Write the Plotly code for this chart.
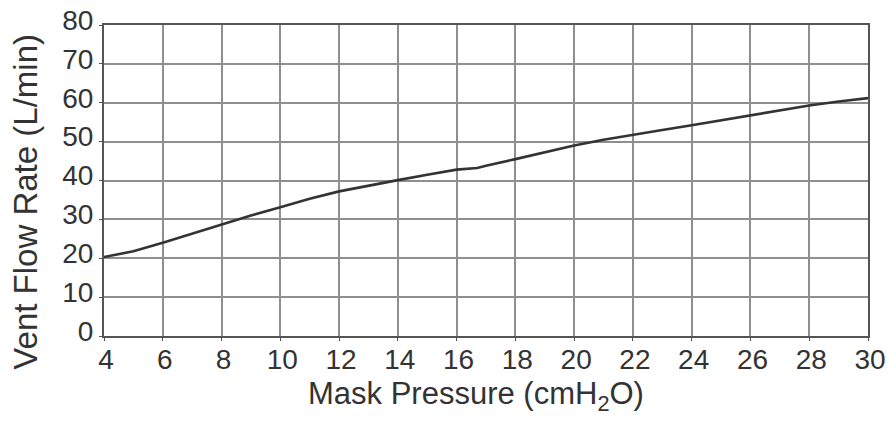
import plotly.graph_objects as go

pressure = [4, 5, 6, 7, 8, 9, 10, 11, 12, 13, 14, 15, 16, 16.7, 17, 18, 19, 20,
            21, 22, 23, 24, 25, 26, 27, 28, 29, 30]
flow = [20.3, 21.8, 24.0, 26.4, 28.8, 31.0, 33.1, 35.3, 37.2, 38.7, 40.1, 41.5,
        42.8, 43.2, 43.8, 45.5, 47.3, 49.0, 50.5, 51.8, 53.0, 54.2, 55.5, 56.8,
        58.1, 59.3, 60.3, 61.2]

x_ticks = list(range(4, 31, 2))
y_ticks = list(range(0, 81, 10))

FONT = "Liberation Sans, Arial, Helvetica, sans-serif"
fig = go.Figure()
fig.add_trace(go.Scatter(x=pressure, y=flow, mode="lines",
                         line=dict(color="#333333", width=2.6), showlegend=False))

fig.update_layout(
    width=890, height=423,
    margin=dict(l=104, r=22, t=25, b=87),
    paper_bgcolor="white", plot_bgcolor="white",
    font=dict(family=FONT, color="#333333"),
    xaxis=dict(range=[4, 30], tickvals=x_ticks, ticktext=[str(v) for v in x_ticks],
               automargin=False,
               showgrid=True, gridcolor="#8f8f8f", gridwidth=1.6,
               showline=True, linecolor="#555555", linewidth=2, mirror=True,
               ticks="outside", ticklen=3, tickcolor="#555555",
               ticklabelstandoff=-6, ticklabelshift=2, ticklabeloverflow="allow",
               tickfont=dict(size=28, color="#333333"), zeroline=False),
    yaxis=dict(range=[0, 80], tickvals=y_ticks, ticktext=[str(v) for v in y_ticks],
               automargin=False,
               showgrid=True, gridcolor="#8f8f8f", gridwidth=1.6,
               showline=True, linecolor="#555555", linewidth=2, mirror=True,
               ticks="outside", ticklen=3, tickcolor="#555555",
               ticklabelshift=-5, ticklabeloverflow="allow",
               tickfont=dict(size=28, color="#333333"), zeroline=False),
    annotations=[
        dict(text="Vent Flow Rate (L/min)", xref="paper", yref="paper",
             x=-0.1021, y=0.432, textangle=-90, showarrow=False,
             xanchor="center", yanchor="middle",
             font=dict(size=33, color="#333333", family=FONT)),
        dict(text="Mask Pressure (cmH<sub>2</sub>O)", xref="paper", yref="paper",
             x=0.487, y=-0.193, showarrow=False,
             xanchor="center", yanchor="middle",
             font=dict(size=31, color="#333333", family=FONT)),
    ],
)

fig.write_html("out.html", config={"displayModeBar": False},
               post_script="document.body.style.margin='0';document.body.style.overflow='hidden';")
